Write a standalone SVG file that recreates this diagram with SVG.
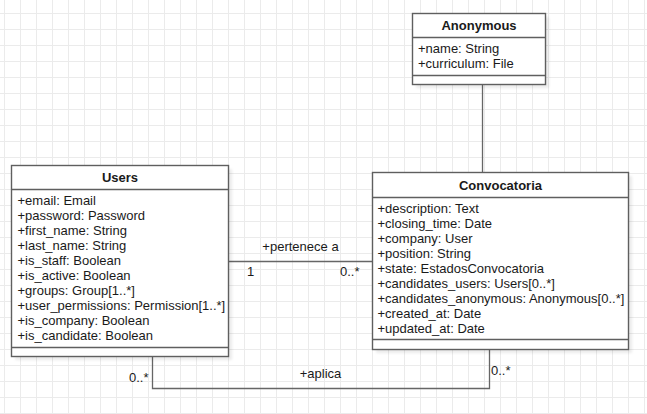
<svg xmlns="http://www.w3.org/2000/svg" width="647" height="414" viewBox="0 0 647 414">
<defs>
<pattern id="grid" x="4" y="13" width="16" height="16" patternUnits="userSpaceOnUse">
<path d="M0.5 0 V16 M0 0.5 H16" fill="none" stroke="#ebebeb" stroke-width="1"/>
</pattern>
<filter id="sh" x="-10%" y="-10%" width="130%" height="130%">
<feGaussianBlur stdDeviation="1.5"/>
</filter>
</defs>
<style>
.box{fill:#ffffff;stroke:#5f5f5f;stroke-width:1.4}
.div{stroke:#5f5f5f;stroke-width:1.4}
.shadow{fill:#000;opacity:0.08;filter:url(#sh)}
.t{font-family:"Liberation Sans",Arial,sans-serif;font-size:13px;fill:#1a1a1a}
.h{font-weight:bold;text-anchor:middle}
.edge{fill:none;stroke:#666666;stroke-width:1.3}
</style>
<rect width="647" height="414" fill="#ffffff"/>
<rect width="647" height="414" fill="url(#grid)"/>

<g id="connectors">
<path class="edge" d="M482.5 84.5 V172.5"/>
<path class="edge" d="M228.5 261.5 H372.5"/>
<path class="edge" d="M152.5 356.5 V388.5 H489.5 V349.5"/>
<text class="t" x="300.5" y="251" text-anchor="middle">+pertenece a</text>
<text class="t" x="247" y="276">1</text>
<text class="t" x="340" y="276">0..*</text>
<text class="t" x="320.5" y="378" text-anchor="middle">+aplica</text>
<text class="t" x="129" y="382">0..*</text>
<text class="t" x="491" y="375">0..*</text>
</g>

<g id="anonymous">
<rect class="shadow" x="416" y="17" width="133" height="71"/>
<rect class="box" x="412.5" y="13.5" width="133" height="71"/>
<line class="div" x1="412.5" y1="37.5" x2="545.5" y2="37.5"/>
<line class="div" x1="412.5" y1="75.5" x2="545.5" y2="75.5"/>
<text class="t h" x="479" y="30">Anonymous</text>
<text class="t" x="418" y="52.5">+name: String</text>
<text class="t" x="418" y="68">+curriculum: File</text>
</g>

<g id="users">
<rect class="shadow" x="15" y="169" width="217" height="191"/>
<rect class="box" x="11.5" y="165.5" width="217" height="191"/>
<line class="div" x1="11.5" y1="189.5" x2="228.5" y2="189.5"/>
<line class="div" x1="11.5" y1="347.5" x2="228.5" y2="347.5"/>
<text class="t h" x="120" y="182">Users</text>
<text class="t" x="17.5" y="204.5">+email: Email</text>
<text class="t" x="17.5" y="219.5">+password: Password</text>
<text class="t" x="17.5" y="234.5">+first_name: String</text>
<text class="t" x="17.5" y="249.5">+last_name: String</text>
<text class="t" x="17.5" y="264.5">+is_staff: Boolean</text>
<text class="t" x="17.5" y="279.5">+is_active: Boolean</text>
<text class="t" x="17.5" y="294.5">+groups: Group[1..*]</text>
<text class="t" x="17.5" y="309.5">+user_permissions: Permission[1..*]</text>
<text class="t" x="17.5" y="324.5">+is_company: Boolean</text>
<text class="t" x="17.5" y="339.5">+is_candidate: Boolean</text>
</g>

<g id="convocatoria">
<rect class="shadow" x="376" y="176" width="256" height="177"/>
<rect class="box" x="372.5" y="172.5" width="256" height="177"/>
<line class="div" x1="372.5" y1="197.5" x2="628.5" y2="197.5"/>
<line class="div" x1="372.5" y1="339.5" x2="628.5" y2="339.5"/>
<text class="t h" x="500.5" y="190">Convocatoria</text>
<text class="t" x="377.5" y="212.5">+description: Text</text>
<text class="t" x="377.5" y="227.5">+closing_time: Date</text>
<text class="t" x="377.5" y="242.5">+company: User</text>
<text class="t" x="377.5" y="257.5">+position: String</text>
<text class="t" x="377.5" y="272.5">+state: EstadosConvocatoria</text>
<text class="t" x="377.5" y="287.5">+candidates_users: Users[0..*]</text>
<text class="t" x="377.5" y="302.5">+candidates_anonymous: Anonymous[0..*]</text>
<text class="t" x="377.5" y="317.5">+created_at: Date</text>
<text class="t" x="377.5" y="332.5">+updated_at: Date</text>
</g>
</svg>
